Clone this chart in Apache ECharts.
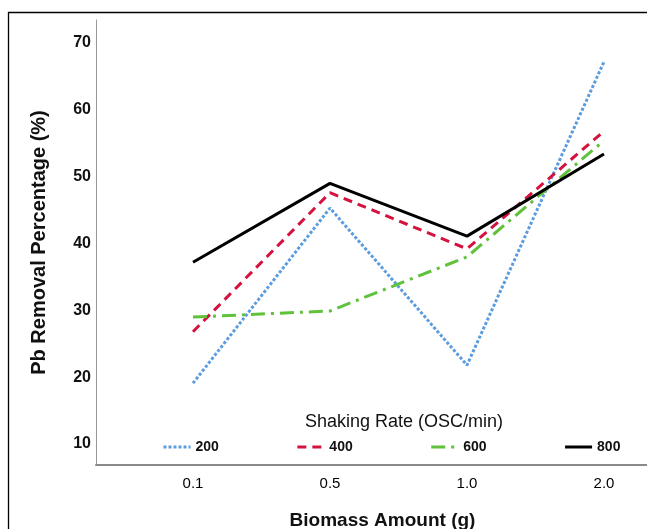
<!DOCTYPE html>
<html>
<head>
<meta charset="utf-8">
<script src="https://cdn.jsdelivr.net/npm/echarts@6/dist/echarts.min.js"></script>
<style>html,body{margin:0;padding:0;background:#fff}#c{width:647px;height:529px}</style>
</head>
<body>
<div id="c"></div>
<script>
var categories = ['0.1', '0.5', '1.0', '2.0'];
var rate200 = [19.1, 45.3, 21.8, 67.2];
var rate400 = [26.8, 47.6, 39.2, 56.8];
var rate600 = [29.0, 29.9, 38.0, 55.4];
var rate800 = [37.2, 49.0, 41.1, 53.4];
var yTicks = [10, 20, 30, 40, 50, 60, 70];
var seriesNames = ['200', '400', '600', '800'];

function pts(arr) { return arr.map(function (v, i) { return [i, v]; }); }

var chart = echarts.init(document.getElementById('c'), null, { renderer: 'canvas' });
var font = 'Liberation Sans, Arial, sans-serif';
chart.setOption({
  animation: false,
  backgroundColor: '#fff',
  graphic: [{
    type: 'rect', silent: true, z: 0,
    shape: { x: 8.5, y: 12.5, width: 700, height: 600 },
    style: { fill: 'none', stroke: '#000', lineWidth: 1.3 }
  }],
  title: {
    text: 'Shaking Rate (OSC/min)', left: 399, top: 408, textAlign: 'center',
    textStyle: { fontFamily: font, fontSize: 18, fontWeight: 'normal', color: '#111' }
  },
  legend: {
    data: seriesNames, left: 162, top: 440, padding: 0, itemWidth: 27, itemHeight: 12, itemGap: 77,
    itemStyle: { opacity: 0 },
    lineStyle: { width: 3 },
    textStyle: { fontFamily: font, fontSize: 14, fontWeight: 'bold', color: '#111' }
  },
  grid: { left: 96, right: 0, top: 20, bottom: 64, outerBoundsMode: 'none', containLabel: false },
  xAxis: {
    type: 'value', min: -0.708, max: 3.314,
    name: 'Biomass Amount (g)', nameLocation: 'middle', nameGap: 46,
    nameTextStyle: { fontFamily: font, fontSize: 19, fontWeight: 'bold', color: '#111', padding: [0, 0, 0, 22] },
    axisLine: { show: true, onZero: false, lineStyle: { color: '#8a8a8a', width: 2 } },
    axisTick: { show: false },
    splitLine: { show: false },
    axisLabel: {
      customValues: [0, 1, 2, 3], margin: 11,
      formatter: function (v) { return categories[Math.round(v)]; },
      fontFamily: font, fontSize: 15, color: '#000'
    }
  },
  yAxis: {
    type: 'value', min: 6.86, max: 73.44,
    name: 'Pb Removal Percentage (%)', nameLocation: 'middle', nameGap: 47,
    nameTextStyle: { fontFamily: font, fontSize: 20, fontWeight: 'bold', color: '#111' },
    axisLine: { show: true, onZero: false, lineStyle: { color: '#999', width: 1 } },
    axisTick: { show: false },
    splitLine: { show: false },
    axisLabel: { customValues: yTicks, margin: 5, fontFamily: font, fontSize: 16, fontWeight: 'bold', color: '#111' }
  },
  series: [
    { name: '200', type: 'line', data: pts(rate200), symbol: 'none', z: 3,
      lineStyle: { color: '#5b9be0', width: 3, type: [3, 2] }, itemStyle: { color: '#5b9be0' } },
    { name: '400', type: 'line', data: pts(rate400), symbol: 'none', z: 4,
      lineStyle: { color: '#d4123e', width: 3, type: [9, 6] }, itemStyle: { color: '#d4123e' } },
    { name: '600', type: 'line', data: pts(rate600), symbol: 'none', z: 5,
      lineStyle: { color: '#5fc23a', width: 3, type: [14, 6, 3, 6] }, itemStyle: { color: '#5fc23a' } },
    { name: '800', type: 'line', data: pts(rate800), symbol: 'none', z: 6,
      lineStyle: { color: '#000', width: 3, type: 'solid' }, itemStyle: { color: '#000' } }
  ]
});
</script>
</body>
</html>
